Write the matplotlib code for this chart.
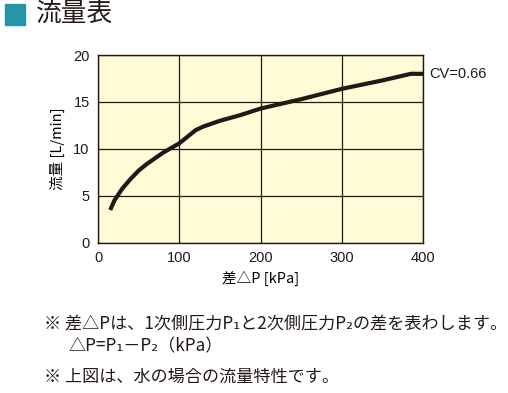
import numpy as np
import matplotlib.pyplot as plt
from matplotlib.patches import Rectangle

plt.rcParams['font.family'] = ['Liberation Sans', 'Noto Sans CJK JP', 'DejaVu Sans']

# flow curve
dp = [15, 20, 30, 40, 50, 60, 70, 80, 90, 100, 110, 120, 130, 150, 175,
      200, 250, 300, 350, 385, 400]
flow = [3.5, 4.5, 5.8, 6.8, 7.7, 8.4, 9.0, 9.6, 10.1, 10.6, 11.3, 12.0, 12.4,
        13.0, 13.6, 14.3, 15.3, 16.4, 17.3, 18.0, 18.0]
x_ticks = [0, 100, 200, 300, 400]
y_ticks = [0, 5, 10, 15, 20]
cv_label = "CV=0.66"

JP = ['Noto Sans CJK JP', 'DejaVu Sans']


def create_graph():
    fig = plt.figure(figsize=(5.08, 3.93), dpi=100)
    ax = fig.add_axes([0.193, 0.382, 0.640, 0.478])
    ax.set_facecolor('#fffbd6')
    ax.plot(dp, flow, color='#231815', lw=3, solid_capstyle='butt')
    ax.set_xlim(0, 400)
    ax.set_ylim(0, 20)
    ax.set_xticks(x_ticks)
    ax.set_yticks(y_ticks)
    ax.grid(color='#231815', lw=0.9)
    ax.tick_params(length=0, labelsize=10.5, colors='#231815', pad=6)
    for s in ax.spines.values():
        s.set_color('#231815')
        s.set_linewidth(1.0)
    ax.set_xlabel('差△P [kPa]', family=JP, fontsize=10.5, labelpad=4)
    ax.set_ylabel('流量 [L/min]', family=JP, fontsize=10.5, labelpad=6)
    ax.text(1.02, 0.9, cv_label, transform=ax.transAxes, fontsize=10.5,
            va='center', ha='left', color='#231815')

    # title block
    fig.patches.append(Rectangle((5 / 508, 1 - 25 / 393), 20 / 508, 21 / 393,
                                 transform=fig.transFigure, color='#2596a8'))
    fig.text(36 / 508, 1 - 15 / 393, '流量表', family=JP, fontsize=18.5,
             va='center', ha='left', color='#231815')

    # notes
    fig.text(44 / 508, 1 - 323 / 393,
             '※ 差△Pは、1次側圧力P₁と2次側圧力P₂の差を表わします。',
             family=JP, fontsize=12.3, va='center', color='#231815')
    fig.text(68 / 508, 1 - 346 / 393, '△P=P₁－P₂（kPa）',
             family=JP, fontsize=12.3, va='center', color='#231815')
    fig.text(44 / 508, 1 - 377 / 393, '※ 上図は、水の場合の流量特性です。',
             family=JP, fontsize=12.3, va='center', color='#231815')

    fig.savefig("out.png", dpi=100)


def main():
    create_graph()


if __name__ == '__main__':
    main()
